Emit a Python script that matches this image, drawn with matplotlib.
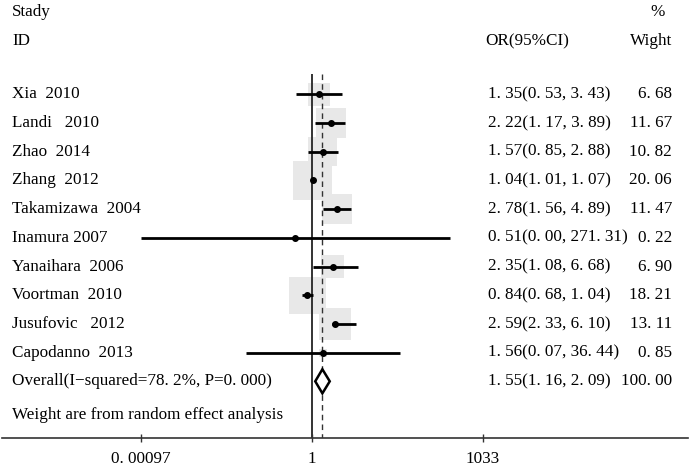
import matplotlib
matplotlib.use("Agg")
import matplotlib.pyplot as plt
import matplotlib.transforms as mtransforms
import numpy as np

# 森林图数据
studies = ['Xia  2010', 'Landi   2010', 'Zhao  2014', 'Zhang  2012', 'Takamizawa  2004',
           'Inamura 2007', 'Yanaihara  2006', 'Voortman  2010', 'Jusufovic   2012', 'Capodanno  2013']
odds = [1.35, 2.22, 1.57, 1.04, 2.78, 0.51, 2.35, 0.84, 2.59, 1.56]
lower = [0.53, 1.17, 0.85, 1.01, 1.56, 0.00, 1.08, 0.68, 2.33, 0.07]
upper = [3.43, 3.89, 2.88, 1.07, 4.89, 271.31, 6.68, 1.04, 6.10, 36.44]
weights = [6.68, 11.67, 10.82, 20.06, 11.47, 0.22, 6.90, 18.21, 13.11, 0.85]

overall_or = 1.55
overall_lo = 1.16
overall_hi = 2.09
overall_weight = 100.00
overall_label = 'Overall(I\u2212squared=78. 2%, P=0. 000)'
note = 'Weight are from random effect analysis'

tick_vals = [0.00097, 1, 1033]
tick_labels = ['0. 00097', '1', '1033']

serif = ['Liberation Serif', 'DejaVu Serif']
fs = 12.3


def fmt(v):
    # 原图数字在小数点后有空隙
    return ('%.2f' % v).replace('.', '. ')


fig = plt.figure(figsize=(7, 4.65), dpi=100)
ax = fig.add_axes([0.003, 0.058, 0.98, 0.942])
ax.set_xscale('log')
ax.set_xlim(np.exp(-12.56), np.exp(15.28))
ax.set_ylim(11.976, -3.286)

n = len(studies)
rows = np.arange(n)

# 权重方块（面积与权重成正比）
side_px = 39 * np.sqrt(np.array(weights) / max(weights))
ax.scatter(odds, rows, marker='s', s=(side_px * 0.72) ** 2, color='#e8e8e8',
           edgecolors='none', zorder=1)

# 参考线
ax.vlines(1, -0.71, 11.976, color='#333333', linewidth=1.4, zorder=2)
ax.vlines(overall_or, -0.71, 11.976, color='#333333', linewidth=1.0,
          linestyles=(0, (4, 3)), zorder=2)

# 置信区间和点
lo_clip = np.maximum(lower, tick_vals[0])
ax.hlines(rows, lo_clip, upper, color='black', linewidth=2.0, zorder=3)
ax.plot(odds, rows, 'o', color='black', markersize=4, zorder=4)

# 合并效应菱形
yo = n
dx = [overall_lo, overall_or, overall_hi, overall_or, overall_lo]
dy = [yo, yo - 0.42, yo, yo + 0.42, yo]
ax.fill(dx, dy, facecolor='white', edgecolor='black', linewidth=1.8, zorder=4)

# 坐标轴
for side in ['top', 'left', 'right']:
    ax.spines[side].set_visible(False)
ax.spines['bottom'].set_color('#333333')
ax.spines['bottom'].set_linewidth(1.2)
ax.set_xticks(tick_vals)
ax.set_xticklabels(tick_labels, fontfamily=serif, fontsize=fs)
ax.minorticks_off()
ax.tick_params(axis='x', direction='inout', length=6, width=1, color='#333333', pad=6)
ax.set_yticks([])

# 文字列
tr = mtransforms.blended_transform_factory(fig.transFigure, ax.transData)
ax.text(12 / 700, -2.87, 'Stady', transform=tr, fontfamily=serif, fontsize=fs, va='center')
ax.text(12 / 700, -1.86, 'ID', transform=tr, fontfamily=serif, fontsize=fs, va='center')
ax.text(485 / 700, -1.86, 'OR(95%CI)', transform=tr, fontfamily=serif, fontsize=fs, va='center')
ax.text(658 / 700, -2.87, '%', transform=tr, fontfamily=serif, fontsize=fs, va='center', ha='center')
ax.text(672 / 700, -1.86, 'Wight', transform=tr, fontfamily=serif, fontsize=fs, va='center', ha='right')

for i in range(n):
    ax.text(12 / 700, i, studies[i], transform=tr, fontfamily=serif, fontsize=fs, va='center')
    ax.text(488 / 700, i, '%s(%s, %s)' % (fmt(odds[i]), fmt(lower[i]), fmt(upper[i])),
            transform=tr, fontfamily=serif, fontsize=fs, va='center')
    ax.text(672 / 700, i, fmt(weights[i]), transform=tr, fontfamily=serif, fontsize=fs,
            va='center', ha='right')

ax.text(12 / 700, n, overall_label, transform=tr, fontfamily=serif, fontsize=fs, va='center')
ax.text(488 / 700, n, '%s(%s, %s)' % (fmt(overall_or), fmt(overall_lo), fmt(overall_hi)),
        transform=tr, fontfamily=serif, fontsize=fs, va='center')
ax.text(672 / 700, n, fmt(overall_weight), transform=tr, fontfamily=serif, fontsize=fs,
        va='center', ha='right')
ax.text(12 / 700, 11.17, note, transform=tr, fontfamily=serif, fontsize=fs, va='center')

fig.savefig('out.png', dpi=100)
